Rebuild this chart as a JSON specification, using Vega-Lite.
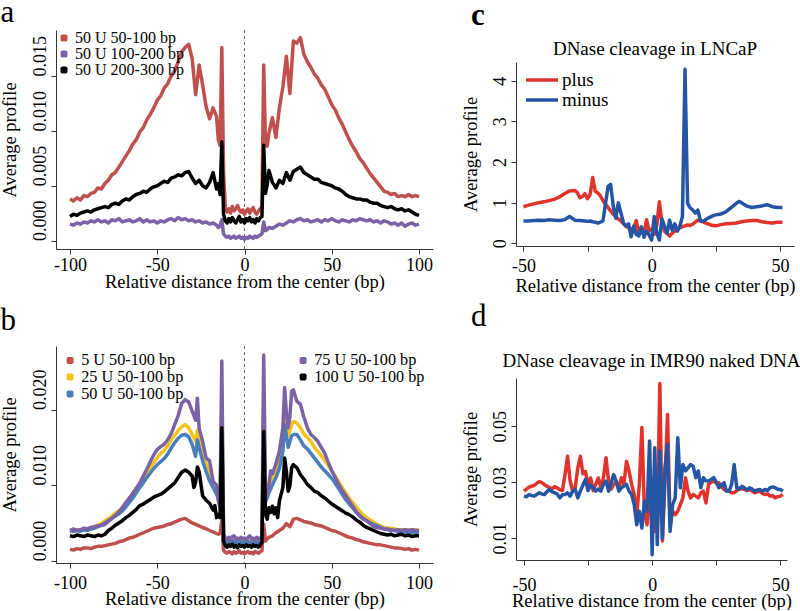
{
"$schema": "https://vega.github.io/schema/vega-lite/v6.json",
"padding": {"left": 0, "top": -4, "right": 0, "bottom": 0},
"config": {
 "font": "Liberation Serif",
 "view": {"stroke": null},
 "axis": {"grid": false, "domainColor": "#333", "tickColor": "#333", "tickSize": 5, "labelFont": "Liberation Serif", "titleFont": "Liberation Serif", "labelFontSize": 18, "titleFontSize": 18.5, "titleFontWeight": "normal", "labelColor": "#000", "titleColor": "#000", "labelPadding": 2, "titlePadding": -2},
 "legend": {"labelFont": "Liberation Serif", "labelColor": "#000"},
 "title": {"font": "Liberation Serif", "fontWeight": "normal", "color": "#000", "baseline": "alphabetic"},
 "line": {"strokeWidth": 3.5, "strokeJoin": "round"}
},
"datasets": {
"a1": [{"x":-100,"y":0.0038},{"x":-98,"y":0.0036},{"x":-96,"y":0.0039},{"x":-94,"y":0.0037},{"x":-92,"y":0.0041},{"x":-90,"y":0.0040},{"x":-88,"y":0.0043},{"x":-86,"y":0.0044},{"x":-84,"y":0.0048},{"x":-82,"y":0.0047},{"x":-80,"y":0.0052},{"x":-78,"y":0.0055},{"x":-76,"y":0.0060},{"x":-74,"y":0.0062},{"x":-72,"y":0.0067},{"x":-70,"y":0.0072},{"x":-68,"y":0.0077},{"x":-66,"y":0.0082},{"x":-64,"y":0.0088},{"x":-62,"y":0.0092},{"x":-60,"y":0.0099},{"x":-58,"y":0.0103},{"x":-56,"y":0.0110},{"x":-54,"y":0.0115},{"x":-52,"y":0.0121},{"x":-50,"y":0.0128},{"x":-48,"y":0.0132},{"x":-46,"y":0.0139},{"x":-44,"y":0.0143},{"x":-42,"y":0.0150},{"x":-40,"y":0.0155},{"x":-38,"y":0.0163},{"x":-36,"y":0.0172},{"x":-34,"y":0.0176},{"x":-32,"y":0.0179},{"x":-30,"y":0.0166},{"x":-28,"y":0.0133},{"x":-26,"y":0.0160},{"x":-24,"y":0.0142},{"x":-22,"y":0.0122},{"x":-20,"y":0.0111},{"x":-18,"y":0.0121},{"x":-16,"y":0.0113},{"x":-15,"y":0.0092},{"x":-14,"y":0.0087},{"x":-13,"y":0.0176},{"x":-12,"y":0.0062},{"x":-11,"y":0.0030},{"x":-10,"y":0.0026},{"x":-9,"y":0.0029},{"x":-8,"y":0.0025},{"x":-7,"y":0.0031},{"x":-6,"y":0.0027},{"x":-5,"y":0.0029},{"x":-4,"y":0.0032},{"x":-3,"y":0.0028},{"x":-2,"y":0.0026},{"x":-1,"y":0.0028},{"x":0,"y":0.0024},{"x":1,"y":0.0027},{"x":2,"y":0.0029},{"x":3,"y":0.0025},{"x":4,"y":0.0028},{"x":5,"y":0.0030},{"x":6,"y":0.0026},{"x":7,"y":0.0024},{"x":8,"y":0.0027},{"x":9,"y":0.0029},{"x":10,"y":0.0031},{"x":11,"y":0.0160},{"x":12,"y":0.0090},{"x":13,"y":0.0086},{"x":14,"y":0.0098},{"x":16,"y":0.0112},{"x":18,"y":0.0094},{"x":20,"y":0.0121},{"x":22,"y":0.0140},{"x":24,"y":0.0168},{"x":26,"y":0.0134},{"x":28,"y":0.0182},{"x":30,"y":0.0180},{"x":32,"y":0.0185},{"x":34,"y":0.0170},{"x":36,"y":0.0163},{"x":38,"y":0.0158},{"x":40,"y":0.0152},{"x":42,"y":0.0148},{"x":44,"y":0.0142},{"x":46,"y":0.0138},{"x":48,"y":0.0131},{"x":50,"y":0.0124},{"x":52,"y":0.0119},{"x":54,"y":0.0112},{"x":56,"y":0.0106},{"x":58,"y":0.0099},{"x":60,"y":0.0092},{"x":62,"y":0.0086},{"x":64,"y":0.0081},{"x":66,"y":0.0075},{"x":68,"y":0.0071},{"x":70,"y":0.0066},{"x":72,"y":0.0061},{"x":74,"y":0.0057},{"x":76,"y":0.0053},{"x":78,"y":0.0049},{"x":80,"y":0.0045},{"x":82,"y":0.0044},{"x":84,"y":0.0042},{"x":86,"y":0.0043},{"x":88,"y":0.0040},{"x":90,"y":0.0041},{"x":92,"y":0.0040},{"x":94,"y":0.0042},{"x":96,"y":0.0040},{"x":98,"y":0.0041},{"x":100,"y":0.0040}],
"a2": [{"x":-100,"y":0.0015},{"x":-98,"y":0.0014},{"x":-96,"y":0.0016},{"x":-94,"y":0.0015},{"x":-92,"y":0.0017},{"x":-90,"y":0.0016},{"x":-88,"y":0.0018},{"x":-86,"y":0.0017},{"x":-84,"y":0.0019},{"x":-82,"y":0.0017},{"x":-80,"y":0.0018},{"x":-78,"y":0.0016},{"x":-76,"y":0.0019},{"x":-74,"y":0.0018},{"x":-72,"y":0.0020},{"x":-70,"y":0.0017},{"x":-68,"y":0.0018},{"x":-66,"y":0.0019},{"x":-64,"y":0.0017},{"x":-62,"y":0.0018},{"x":-60,"y":0.0020},{"x":-58,"y":0.0017},{"x":-56,"y":0.0019},{"x":-54,"y":0.0017},{"x":-52,"y":0.0018},{"x":-50,"y":0.0016},{"x":-48,"y":0.0018},{"x":-46,"y":0.0017},{"x":-44,"y":0.0019},{"x":-42,"y":0.0020},{"x":-40,"y":0.0018},{"x":-38,"y":0.0021},{"x":-36,"y":0.0019},{"x":-34,"y":0.0020},{"x":-32,"y":0.0018},{"x":-30,"y":0.0019},{"x":-28,"y":0.0017},{"x":-26,"y":0.0018},{"x":-24,"y":0.0016},{"x":-22,"y":0.0017},{"x":-20,"y":0.0015},{"x":-18,"y":0.0016},{"x":-16,"y":0.0014},{"x":-15,"y":0.0012},{"x":-14,"y":0.0013},{"x":-13,"y":0.0019},{"x":-12,"y":0.0006},{"x":-11,"y":0.0004},{"x":-10,"y":0.0003},{"x":-9,"y":0.0004},{"x":-8,"y":0.0002},{"x":-7,"y":0.0003},{"x":-6,"y":0.0004},{"x":-5,"y":0.0002},{"x":-4,"y":0.0003},{"x":-3,"y":0.0004},{"x":-2,"y":0.0002},{"x":-1,"y":0.0003},{"x":0,"y":0.0001},{"x":1,"y":0.0003},{"x":2,"y":0.0002},{"x":3,"y":0.0004},{"x":4,"y":0.0003},{"x":5,"y":0.0002},{"x":6,"y":0.0004},{"x":7,"y":0.0003},{"x":8,"y":0.0004},{"x":9,"y":0.0005},{"x":10,"y":0.0006},{"x":11,"y":0.0017},{"x":12,"y":0.0009},{"x":13,"y":0.0010},{"x":14,"y":0.0012},{"x":16,"y":0.0011},{"x":18,"y":0.0013},{"x":20,"y":0.0015},{"x":22,"y":0.0014},{"x":24,"y":0.0016},{"x":26,"y":0.0018},{"x":28,"y":0.0017},{"x":30,"y":0.0019},{"x":32,"y":0.0020},{"x":34,"y":0.0018},{"x":36,"y":0.0019},{"x":38,"y":0.0017},{"x":40,"y":0.0018},{"x":42,"y":0.0019},{"x":44,"y":0.0017},{"x":46,"y":0.0019},{"x":48,"y":0.0018},{"x":50,"y":0.0020},{"x":52,"y":0.0018},{"x":54,"y":0.0017},{"x":56,"y":0.0019},{"x":58,"y":0.0018},{"x":60,"y":0.0017},{"x":62,"y":0.0019},{"x":64,"y":0.0018},{"x":66,"y":0.0020},{"x":68,"y":0.0019},{"x":70,"y":0.0018},{"x":72,"y":0.0019},{"x":74,"y":0.0017},{"x":76,"y":0.0018},{"x":78,"y":0.0016},{"x":80,"y":0.0018},{"x":82,"y":0.0017},{"x":84,"y":0.0015},{"x":86,"y":0.0016},{"x":88,"y":0.0014},{"x":90,"y":0.0016},{"x":92,"y":0.0013},{"x":94,"y":0.0015},{"x":96,"y":0.0016},{"x":98,"y":0.0014},{"x":100,"y":0.0015}],
"a3": [{"x":-100,"y":0.0022},{"x":-98,"y":0.0024},{"x":-96,"y":0.0023},{"x":-94,"y":0.0025},{"x":-92,"y":0.0026},{"x":-90,"y":0.0027},{"x":-88,"y":0.0026},{"x":-86,"y":0.0028},{"x":-84,"y":0.0029},{"x":-82,"y":0.0030},{"x":-80,"y":0.0031},{"x":-78,"y":0.0030},{"x":-76,"y":0.0033},{"x":-74,"y":0.0034},{"x":-72,"y":0.0033},{"x":-70,"y":0.0036},{"x":-68,"y":0.0038},{"x":-66,"y":0.0037},{"x":-64,"y":0.0040},{"x":-62,"y":0.0042},{"x":-60,"y":0.0043},{"x":-58,"y":0.0045},{"x":-56,"y":0.0044},{"x":-54,"y":0.0047},{"x":-52,"y":0.0049},{"x":-50,"y":0.0050},{"x":-48,"y":0.0052},{"x":-46,"y":0.0054},{"x":-44,"y":0.0053},{"x":-42,"y":0.0057},{"x":-40,"y":0.0058},{"x":-38,"y":0.0060},{"x":-36,"y":0.0059},{"x":-34,"y":0.0062},{"x":-32,"y":0.0063},{"x":-30,"y":0.0057},{"x":-28,"y":0.0052},{"x":-26,"y":0.0055},{"x":-24,"y":0.0050},{"x":-22,"y":0.0048},{"x":-20,"y":0.0053},{"x":-18,"y":0.0062},{"x":-16,"y":0.0047},{"x":-15,"y":0.0052},{"x":-14,"y":0.0042},{"x":-13,"y":0.0090},{"x":-12,"y":0.0024},{"x":-11,"y":0.0018},{"x":-10,"y":0.0016},{"x":-9,"y":0.0020},{"x":-8,"y":0.0017},{"x":-7,"y":0.0021},{"x":-6,"y":0.0018},{"x":-5,"y":0.0016},{"x":-4,"y":0.0019},{"x":-3,"y":0.0022},{"x":-2,"y":0.0017},{"x":-1,"y":0.0019},{"x":0,"y":0.0016},{"x":1,"y":0.0020},{"x":2,"y":0.0018},{"x":3,"y":0.0021},{"x":4,"y":0.0017},{"x":5,"y":0.0019},{"x":6,"y":0.0016},{"x":7,"y":0.0020},{"x":8,"y":0.0018},{"x":9,"y":0.0021},{"x":10,"y":0.0022},{"x":11,"y":0.0087},{"x":12,"y":0.0043},{"x":13,"y":0.0051},{"x":14,"y":0.0064},{"x":16,"y":0.0053},{"x":18,"y":0.0048},{"x":20,"y":0.0055},{"x":22,"y":0.0052},{"x":24,"y":0.0062},{"x":26,"y":0.0055},{"x":28,"y":0.0063},{"x":30,"y":0.0065},{"x":32,"y":0.0067},{"x":34,"y":0.0062},{"x":36,"y":0.0060},{"x":38,"y":0.0058},{"x":40,"y":0.0056},{"x":42,"y":0.0056},{"x":44,"y":0.0053},{"x":46,"y":0.0052},{"x":48,"y":0.0051},{"x":50,"y":0.0050},{"x":52,"y":0.0048},{"x":54,"y":0.0047},{"x":56,"y":0.0045},{"x":58,"y":0.0042},{"x":60,"y":0.0040},{"x":62,"y":0.0039},{"x":64,"y":0.0038},{"x":66,"y":0.0038},{"x":68,"y":0.0037},{"x":70,"y":0.0037},{"x":72,"y":0.0035},{"x":74,"y":0.0034},{"x":76,"y":0.0034},{"x":78,"y":0.0032},{"x":80,"y":0.0031},{"x":82,"y":0.0030},{"x":84,"y":0.0031},{"x":86,"y":0.0029},{"x":88,"y":0.0028},{"x":90,"y":0.0029},{"x":92,"y":0.0027},{"x":94,"y":0.0028},{"x":96,"y":0.0026},{"x":98,"y":0.0024},{"x":100,"y":0.0023}],
"b1": [{"x":-100,"y":0.0015},{"x":-98,"y":0.0014},{"x":-96,"y":0.0016},{"x":-94,"y":0.0015},{"x":-92,"y":0.0017},{"x":-90,"y":0.0017},{"x":-88,"y":0.0016},{"x":-86,"y":0.0018},{"x":-84,"y":0.0019},{"x":-82,"y":0.0019},{"x":-80,"y":0.0020},{"x":-78,"y":0.0021},{"x":-76,"y":0.0022},{"x":-74,"y":0.0023},{"x":-72,"y":0.0025},{"x":-70,"y":0.0026},{"x":-68,"y":0.0028},{"x":-66,"y":0.0030},{"x":-64,"y":0.0031},{"x":-62,"y":0.0033},{"x":-60,"y":0.0035},{"x":-58,"y":0.0037},{"x":-56,"y":0.0039},{"x":-54,"y":0.0041},{"x":-52,"y":0.0043},{"x":-50,"y":0.0044},{"x":-48,"y":0.0045},{"x":-46,"y":0.0046},{"x":-44,"y":0.0048},{"x":-42,"y":0.0049},{"x":-40,"y":0.0051},{"x":-38,"y":0.0053},{"x":-36,"y":0.0055},{"x":-34,"y":0.0056},{"x":-32,"y":0.0053},{"x":-30,"y":0.0050},{"x":-28,"y":0.0048},{"x":-26,"y":0.0046},{"x":-24,"y":0.0044},{"x":-22,"y":0.0042},{"x":-20,"y":0.0040},{"x":-18,"y":0.0038},{"x":-16,"y":0.0036},{"x":-15,"y":0.0035},{"x":-14,"y":0.0036},{"x":-13,"y":0.0053},{"x":-12,"y":0.0014},{"x":-11,"y":0.0011},{"x":-10,"y":0.0010},{"x":-9,"y":0.0012},{"x":-8,"y":0.0011},{"x":-7,"y":0.0009},{"x":-6,"y":0.0012},{"x":-5,"y":0.0010},{"x":-4,"y":0.0011},{"x":-3,"y":0.0013},{"x":-2,"y":0.0010},{"x":-1,"y":0.0011},{"x":0,"y":0.0009},{"x":1,"y":0.0011},{"x":2,"y":0.0012},{"x":3,"y":0.0010},{"x":4,"y":0.0011},{"x":5,"y":0.0009},{"x":6,"y":0.0012},{"x":7,"y":0.0011},{"x":8,"y":0.0010},{"x":9,"y":0.0012},{"x":10,"y":0.0013},{"x":11,"y":0.0048},{"x":12,"y":0.0026},{"x":13,"y":0.0029},{"x":14,"y":0.0031},{"x":16,"y":0.0033},{"x":18,"y":0.0037},{"x":20,"y":0.0040},{"x":22,"y":0.0043},{"x":24,"y":0.0049},{"x":26,"y":0.0045},{"x":28,"y":0.0055},{"x":30,"y":0.0056},{"x":32,"y":0.0054},{"x":34,"y":0.0052},{"x":36,"y":0.0051},{"x":38,"y":0.0050},{"x":40,"y":0.0048},{"x":42,"y":0.0047},{"x":44,"y":0.0046},{"x":46,"y":0.0044},{"x":48,"y":0.0042},{"x":50,"y":0.0040},{"x":52,"y":0.0039},{"x":54,"y":0.0037},{"x":56,"y":0.0035},{"x":58,"y":0.0033},{"x":60,"y":0.0031},{"x":62,"y":0.0030},{"x":64,"y":0.0028},{"x":66,"y":0.0027},{"x":68,"y":0.0025},{"x":70,"y":0.0024},{"x":72,"y":0.0023},{"x":74,"y":0.0022},{"x":76,"y":0.0021},{"x":78,"y":0.0021},{"x":80,"y":0.0020},{"x":82,"y":0.0019},{"x":84,"y":0.0018},{"x":86,"y":0.0017},{"x":88,"y":0.0017},{"x":90,"y":0.0016},{"x":92,"y":0.0015},{"x":94,"y":0.0016},{"x":96,"y":0.0014},{"x":98,"y":0.0015},{"x":100,"y":0.0014}],
"b2": [{"x":-100,"y":0.0040},{"x":-98,"y":0.0039},{"x":-96,"y":0.0041},{"x":-94,"y":0.0040},{"x":-92,"y":0.0042},{"x":-90,"y":0.0041},{"x":-88,"y":0.0043},{"x":-86,"y":0.0045},{"x":-84,"y":0.0047},{"x":-82,"y":0.0049},{"x":-80,"y":0.0053},{"x":-78,"y":0.0056},{"x":-76,"y":0.0059},{"x":-74,"y":0.0063},{"x":-72,"y":0.0066},{"x":-70,"y":0.0070},{"x":-68,"y":0.0076},{"x":-66,"y":0.0082},{"x":-64,"y":0.0089},{"x":-62,"y":0.0096},{"x":-60,"y":0.0103},{"x":-58,"y":0.0110},{"x":-56,"y":0.0117},{"x":-54,"y":0.0123},{"x":-52,"y":0.0130},{"x":-50,"y":0.0136},{"x":-48,"y":0.0142},{"x":-46,"y":0.0146},{"x":-44,"y":0.0152},{"x":-42,"y":0.0160},{"x":-40,"y":0.0166},{"x":-38,"y":0.0172},{"x":-36,"y":0.0177},{"x":-34,"y":0.0180},{"x":-32,"y":0.0176},{"x":-30,"y":0.0167},{"x":-28,"y":0.0158},{"x":-27,"y":0.0172},{"x":-26,"y":0.0160},{"x":-24,"y":0.0145},{"x":-22,"y":0.0128},{"x":-20,"y":0.0115},{"x":-18,"y":0.0105},{"x":-16,"y":0.0092},{"x":-15,"y":0.0088},{"x":-14,"y":0.0082},{"x":-13,"y":0.0220},{"x":-12,"y":0.0030},{"x":-11,"y":0.0026},{"x":-10,"y":0.0024},{"x":-9,"y":0.0027},{"x":-8,"y":0.0025},{"x":-7,"y":0.0028},{"x":-6,"y":0.0026},{"x":-5,"y":0.0024},{"x":-4,"y":0.0027},{"x":-3,"y":0.0025},{"x":-2,"y":0.0026},{"x":-1,"y":0.0024},{"x":0,"y":0.0026},{"x":1,"y":0.0025},{"x":2,"y":0.0027},{"x":3,"y":0.0024},{"x":4,"y":0.0026},{"x":5,"y":0.0025},{"x":6,"y":0.0027},{"x":7,"y":0.0024},{"x":8,"y":0.0026},{"x":9,"y":0.0025},{"x":10,"y":0.0027},{"x":11,"y":0.0215},{"x":12,"y":0.0088},{"x":13,"y":0.0092},{"x":14,"y":0.0100},{"x":16,"y":0.0110},{"x":18,"y":0.0120},{"x":20,"y":0.0136},{"x":22,"y":0.0160},{"x":23,"y":0.0193},{"x":25,"y":0.0165},{"x":27,"y":0.0180},{"x":28,"y":0.0184},{"x":30,"y":0.0182},{"x":32,"y":0.0176},{"x":34,"y":0.0168},{"x":36,"y":0.0163},{"x":38,"y":0.0158},{"x":40,"y":0.0150},{"x":42,"y":0.0145},{"x":44,"y":0.0139},{"x":46,"y":0.0133},{"x":48,"y":0.0126},{"x":50,"y":0.0119},{"x":52,"y":0.0112},{"x":54,"y":0.0104},{"x":56,"y":0.0097},{"x":58,"y":0.0090},{"x":60,"y":0.0082},{"x":62,"y":0.0077},{"x":64,"y":0.0071},{"x":66,"y":0.0066},{"x":68,"y":0.0061},{"x":70,"y":0.0057},{"x":72,"y":0.0054},{"x":74,"y":0.0051},{"x":76,"y":0.0048},{"x":78,"y":0.0046},{"x":80,"y":0.0044},{"x":82,"y":0.0043},{"x":84,"y":0.0043},{"x":86,"y":0.0042},{"x":88,"y":0.0041},{"x":90,"y":0.0041},{"x":92,"y":0.0040},{"x":94,"y":0.0041},{"x":96,"y":0.0040},{"x":98,"y":0.0041},{"x":100,"y":0.0040}],
"b3": [{"x":-100,"y":0.0040},{"x":-98,"y":0.0039},{"x":-96,"y":0.0040},{"x":-94,"y":0.0039},{"x":-92,"y":0.0041},{"x":-90,"y":0.0040},{"x":-88,"y":0.0042},{"x":-86,"y":0.0043},{"x":-84,"y":0.0045},{"x":-82,"y":0.0047},{"x":-80,"y":0.0050},{"x":-78,"y":0.0053},{"x":-76,"y":0.0056},{"x":-74,"y":0.0059},{"x":-72,"y":0.0062},{"x":-70,"y":0.0066},{"x":-68,"y":0.0071},{"x":-66,"y":0.0077},{"x":-64,"y":0.0083},{"x":-62,"y":0.0090},{"x":-60,"y":0.0097},{"x":-58,"y":0.0103},{"x":-56,"y":0.0110},{"x":-54,"y":0.0116},{"x":-52,"y":0.0122},{"x":-50,"y":0.0127},{"x":-48,"y":0.0131},{"x":-46,"y":0.0135},{"x":-44,"y":0.0141},{"x":-42,"y":0.0149},{"x":-40,"y":0.0156},{"x":-38,"y":0.0162},{"x":-36,"y":0.0166},{"x":-34,"y":0.0167},{"x":-32,"y":0.0164},{"x":-30,"y":0.0154},{"x":-28,"y":0.0138},{"x":-27,"y":0.0160},{"x":-26,"y":0.0150},{"x":-24,"y":0.0132},{"x":-22,"y":0.0118},{"x":-20,"y":0.0106},{"x":-18,"y":0.0097},{"x":-16,"y":0.0088},{"x":-15,"y":0.0083},{"x":-14,"y":0.0075},{"x":-13,"y":0.0200},{"x":-12,"y":0.0028},{"x":-11,"y":0.0025},{"x":-10,"y":0.0023},{"x":-9,"y":0.0026},{"x":-8,"y":0.0024},{"x":-7,"y":0.0027},{"x":-6,"y":0.0025},{"x":-5,"y":0.0023},{"x":-4,"y":0.0026},{"x":-3,"y":0.0024},{"x":-2,"y":0.0025},{"x":-1,"y":0.0023},{"x":0,"y":0.0025},{"x":1,"y":0.0024},{"x":2,"y":0.0026},{"x":3,"y":0.0023},{"x":4,"y":0.0025},{"x":5,"y":0.0024},{"x":6,"y":0.0026},{"x":7,"y":0.0023},{"x":8,"y":0.0025},{"x":9,"y":0.0024},{"x":10,"y":0.0026},{"x":11,"y":0.0200},{"x":12,"y":0.0078},{"x":13,"y":0.0083},{"x":14,"y":0.0090},{"x":16,"y":0.0100},{"x":18,"y":0.0110},{"x":20,"y":0.0122},{"x":22,"y":0.0145},{"x":23,"y":0.0180},{"x":25,"y":0.0150},{"x":27,"y":0.0165},{"x":28,"y":0.0167},{"x":30,"y":0.0167},{"x":32,"y":0.0160},{"x":34,"y":0.0152},{"x":36,"y":0.0148},{"x":38,"y":0.0142},{"x":40,"y":0.0136},{"x":42,"y":0.0130},{"x":44,"y":0.0124},{"x":46,"y":0.0119},{"x":48,"y":0.0114},{"x":50,"y":0.0109},{"x":52,"y":0.0102},{"x":54,"y":0.0095},{"x":56,"y":0.0088},{"x":58,"y":0.0081},{"x":60,"y":0.0075},{"x":62,"y":0.0070},{"x":64,"y":0.0064},{"x":66,"y":0.0060},{"x":68,"y":0.0056},{"x":70,"y":0.0053},{"x":72,"y":0.0050},{"x":74,"y":0.0048},{"x":76,"y":0.0046},{"x":78,"y":0.0044},{"x":80,"y":0.0042},{"x":82,"y":0.0041},{"x":84,"y":0.0040},{"x":86,"y":0.0040},{"x":88,"y":0.0039},{"x":90,"y":0.0039},{"x":92,"y":0.0038},{"x":94,"y":0.0038},{"x":96,"y":0.0037},{"x":98,"y":0.0038},{"x":100,"y":0.0037}],
"b4": [{"x":-100,"y":0.0040},{"x":-98,"y":0.0042},{"x":-96,"y":0.0040},{"x":-94,"y":0.0041},{"x":-92,"y":0.0043},{"x":-90,"y":0.0042},{"x":-88,"y":0.0044},{"x":-86,"y":0.0045},{"x":-84,"y":0.0046},{"x":-82,"y":0.0047},{"x":-80,"y":0.0048},{"x":-78,"y":0.0052},{"x":-76,"y":0.0056},{"x":-74,"y":0.0060},{"x":-72,"y":0.0065},{"x":-70,"y":0.0070},{"x":-68,"y":0.0077},{"x":-66,"y":0.0083},{"x":-64,"y":0.0089},{"x":-62,"y":0.0096},{"x":-60,"y":0.0103},{"x":-58,"y":0.0112},{"x":-56,"y":0.0121},{"x":-54,"y":0.0131},{"x":-52,"y":0.0140},{"x":-50,"y":0.0147},{"x":-48,"y":0.0151},{"x":-46,"y":0.0154},{"x":-44,"y":0.0160},{"x":-42,"y":0.0168},{"x":-40,"y":0.0180},{"x":-38,"y":0.0192},{"x":-36,"y":0.0208},{"x":-34,"y":0.0213},{"x":-32,"y":0.0210},{"x":-30,"y":0.0198},{"x":-28,"y":0.0186},{"x":-27,"y":0.0215},{"x":-26,"y":0.0175},{"x":-24,"y":0.0158},{"x":-22,"y":0.0136},{"x":-20,"y":0.0132},{"x":-18,"y":0.0105},{"x":-16,"y":0.0100},{"x":-15,"y":0.0079},{"x":-14,"y":0.0070},{"x":-13,"y":0.0264},{"x":-12,"y":0.0035},{"x":-11,"y":0.0030},{"x":-10,"y":0.0029},{"x":-9,"y":0.0031},{"x":-8,"y":0.0028},{"x":-7,"y":0.0032},{"x":-6,"y":0.0033},{"x":-5,"y":0.0029},{"x":-4,"y":0.0030},{"x":-3,"y":0.0028},{"x":-2,"y":0.0031},{"x":-1,"y":0.0029},{"x":0,"y":0.0030},{"x":1,"y":0.0028},{"x":2,"y":0.0031},{"x":3,"y":0.0033},{"x":4,"y":0.0029},{"x":5,"y":0.0030},{"x":6,"y":0.0028},{"x":7,"y":0.0031},{"x":8,"y":0.0029},{"x":9,"y":0.0030},{"x":10,"y":0.0032},{"x":11,"y":0.0272},{"x":12,"y":0.0097},{"x":13,"y":0.0088},{"x":14,"y":0.0100},{"x":15,"y":0.0119},{"x":16,"y":0.0115},{"x":18,"y":0.0128},{"x":20,"y":0.0145},{"x":22,"y":0.0176},{"x":23,"y":0.0229},{"x":24,"y":0.0195},{"x":25,"y":0.0176},{"x":26,"y":0.0190},{"x":27,"y":0.0224},{"x":28,"y":0.0226},{"x":30,"y":0.0211},{"x":32,"y":0.0207},{"x":34,"y":0.0190},{"x":36,"y":0.0176},{"x":38,"y":0.0167},{"x":40,"y":0.0163},{"x":42,"y":0.0158},{"x":44,"y":0.0150},{"x":46,"y":0.0142},{"x":48,"y":0.0130},{"x":50,"y":0.0119},{"x":52,"y":0.0110},{"x":54,"y":0.0101},{"x":56,"y":0.0093},{"x":58,"y":0.0086},{"x":60,"y":0.0079},{"x":62,"y":0.0072},{"x":64,"y":0.0065},{"x":66,"y":0.0059},{"x":68,"y":0.0055},{"x":70,"y":0.0053},{"x":72,"y":0.0049},{"x":74,"y":0.0045},{"x":76,"y":0.0044},{"x":78,"y":0.0043},{"x":80,"y":0.0042},{"x":82,"y":0.0042},{"x":84,"y":0.0041},{"x":86,"y":0.0040},{"x":88,"y":0.0041},{"x":90,"y":0.0040},{"x":92,"y":0.0041},{"x":94,"y":0.0040},{"x":96,"y":0.0041},{"x":98,"y":0.0040},{"x":100,"y":0.0040}],
"b5": [{"x":-100,"y":0.0033},{"x":-98,"y":0.0032},{"x":-96,"y":0.0034},{"x":-94,"y":0.0033},{"x":-92,"y":0.0032},{"x":-90,"y":0.0034},{"x":-88,"y":0.0033},{"x":-86,"y":0.0032},{"x":-84,"y":0.0034},{"x":-82,"y":0.0033},{"x":-80,"y":0.0035},{"x":-78,"y":0.0040},{"x":-76,"y":0.0043},{"x":-74,"y":0.0047},{"x":-72,"y":0.0050},{"x":-70,"y":0.0053},{"x":-68,"y":0.0057},{"x":-66,"y":0.0060},{"x":-64,"y":0.0064},{"x":-62,"y":0.0068},{"x":-60,"y":0.0073},{"x":-58,"y":0.0075},{"x":-56,"y":0.0078},{"x":-54,"y":0.0081},{"x":-52,"y":0.0084},{"x":-50,"y":0.0086},{"x":-48,"y":0.0088},{"x":-46,"y":0.0091},{"x":-44,"y":0.0095},{"x":-42,"y":0.0099},{"x":-40,"y":0.0103},{"x":-38,"y":0.0110},{"x":-36,"y":0.0117},{"x":-34,"y":0.0120},{"x":-32,"y":0.0117},{"x":-30,"y":0.0112},{"x":-29,"y":0.0097},{"x":-28,"y":0.0104},{"x":-27,"y":0.0124},{"x":-26,"y":0.0118},{"x":-24,"y":0.0086},{"x":-22,"y":0.0080},{"x":-20,"y":0.0076},{"x":-18,"y":0.0067},{"x":-17,"y":0.0073},{"x":-16,"y":0.0057},{"x":-15,"y":0.0061},{"x":-14,"y":0.0057},{"x":-13,"y":0.0176},{"x":-12,"y":0.0026},{"x":-11,"y":0.0020},{"x":-10,"y":0.0018},{"x":-9,"y":0.0021},{"x":-8,"y":0.0019},{"x":-7,"y":0.0022},{"x":-6,"y":0.0018},{"x":-5,"y":0.0020},{"x":-4,"y":0.0017},{"x":-3,"y":0.0021},{"x":-2,"y":0.0019},{"x":-1,"y":0.0020},{"x":0,"y":0.0018},{"x":1,"y":0.0021},{"x":2,"y":0.0019},{"x":3,"y":0.0020},{"x":4,"y":0.0018},{"x":5,"y":0.0021},{"x":6,"y":0.0019},{"x":7,"y":0.0020},{"x":8,"y":0.0018},{"x":9,"y":0.0021},{"x":10,"y":0.0024},{"x":11,"y":0.0171},{"x":12,"y":0.0062},{"x":13,"y":0.0055},{"x":14,"y":0.0070},{"x":15,"y":0.0064},{"x":16,"y":0.0072},{"x":17,"y":0.0062},{"x":18,"y":0.0070},{"x":19,"y":0.0057},{"x":20,"y":0.0079},{"x":22,"y":0.0097},{"x":23,"y":0.0136},{"x":24,"y":0.0118},{"x":25,"y":0.0092},{"x":26,"y":0.0099},{"x":27,"y":0.0123},{"x":28,"y":0.0127},{"x":30,"y":0.0123},{"x":32,"y":0.0114},{"x":34,"y":0.0108},{"x":36,"y":0.0101},{"x":38,"y":0.0097},{"x":40,"y":0.0092},{"x":42,"y":0.0090},{"x":44,"y":0.0086},{"x":46,"y":0.0083},{"x":48,"y":0.0079},{"x":50,"y":0.0075},{"x":52,"y":0.0072},{"x":54,"y":0.0069},{"x":56,"y":0.0066},{"x":58,"y":0.0063},{"x":60,"y":0.0061},{"x":62,"y":0.0058},{"x":64,"y":0.0054},{"x":66,"y":0.0051},{"x":68,"y":0.0047},{"x":70,"y":0.0044},{"x":72,"y":0.0042},{"x":74,"y":0.0040},{"x":76,"y":0.0038},{"x":78,"y":0.0036},{"x":80,"y":0.0035},{"x":82,"y":0.0034},{"x":84,"y":0.0035},{"x":86,"y":0.0033},{"x":88,"y":0.0034},{"x":90,"y":0.0035},{"x":92,"y":0.0033},{"x":94,"y":0.0034},{"x":96,"y":0.0032},{"x":98,"y":0.0033},{"x":100,"y":0.0033}],
"c1": [{"x":-50,"y":0.90},{"x":-48,"y":0.94},{"x":-46,"y":0.97},{"x":-44,"y":1.00},{"x":-42,"y":1.02},{"x":-40,"y":1.05},{"x":-38,"y":1.08},{"x":-36,"y":1.14},{"x":-34,"y":1.22},{"x":-32,"y":1.29},{"x":-30,"y":1.30},{"x":-29,"y":1.25},{"x":-28,"y":1.12},{"x":-27,"y":1.15},{"x":-26,"y":1.22},{"x":-25,"y":1.10},{"x":-24,"y":1.20},{"x":-23,"y":1.62},{"x":-22,"y":1.28},{"x":-21,"y":1.24},{"x":-20,"y":1.17},{"x":-19,"y":1.05},{"x":-18,"y":0.96},{"x":-17,"y":0.88},{"x":-16,"y":0.80},{"x":-15,"y":0.72},{"x":-14,"y":0.66},{"x":-13,"y":0.60},{"x":-12,"y":0.55},{"x":-11,"y":0.48},{"x":-10,"y":0.42},{"x":-9,"y":0.38},{"x":-8,"y":0.32},{"x":-7,"y":0.40},{"x":-6,"y":0.56},{"x":-5,"y":0.25},{"x":-4,"y":0.40},{"x":-3,"y":0.22},{"x":-2,"y":0.58},{"x":-1,"y":0.30},{"x":0,"y":0.35},{"x":1,"y":0.22},{"x":2,"y":0.45},{"x":3,"y":1.02},{"x":4,"y":0.50},{"x":5,"y":0.30},{"x":6,"y":0.24},{"x":7,"y":0.18},{"x":8,"y":0.25},{"x":9,"y":0.30},{"x":10,"y":0.34},{"x":11,"y":0.38},{"x":12,"y":0.41},{"x":13,"y":0.43},{"x":14,"y":0.45},{"x":15,"y":0.44},{"x":16,"y":0.47},{"x":17,"y":0.52},{"x":18,"y":0.57},{"x":19,"y":0.55},{"x":20,"y":0.53},{"x":21,"y":0.50},{"x":22,"y":0.48},{"x":23,"y":0.45},{"x":24,"y":0.44},{"x":25,"y":0.43},{"x":27,"y":0.46},{"x":29,"y":0.48},{"x":31,"y":0.49},{"x":33,"y":0.50},{"x":35,"y":0.53},{"x":37,"y":0.55},{"x":39,"y":0.56},{"x":41,"y":0.56},{"x":43,"y":0.53},{"x":45,"y":0.51},{"x":47,"y":0.50},{"x":49,"y":0.52},{"x":51,"y":0.52}],
"c2": [{"x":-50,"y":0.55},{"x":-48,"y":0.55},{"x":-46,"y":0.56},{"x":-44,"y":0.57},{"x":-42,"y":0.56},{"x":-40,"y":0.58},{"x":-38,"y":0.57},{"x":-36,"y":0.56},{"x":-34,"y":0.58},{"x":-32,"y":0.66},{"x":-30,"y":0.57},{"x":-28,"y":0.56},{"x":-26,"y":0.55},{"x":-25,"y":0.54},{"x":-24,"y":0.55},{"x":-23,"y":0.53},{"x":-22,"y":0.52},{"x":-21,"y":0.50},{"x":-20,"y":0.52},{"x":-19,"y":0.55},{"x":-18,"y":0.98},{"x":-17,"y":1.40},{"x":-16,"y":1.45},{"x":-15,"y":0.92},{"x":-14,"y":0.62},{"x":-13,"y":1.00},{"x":-12,"y":0.75},{"x":-11,"y":0.50},{"x":-10,"y":0.42},{"x":-9,"y":0.48},{"x":-8,"y":0.16},{"x":-7,"y":0.42},{"x":-6,"y":0.22},{"x":-5,"y":0.18},{"x":-4,"y":0.40},{"x":-3,"y":0.15},{"x":-2,"y":0.30},{"x":-1,"y":0.20},{"x":0,"y":0.08},{"x":1,"y":0.66},{"x":2,"y":0.25},{"x":3,"y":0.08},{"x":4,"y":0.60},{"x":5,"y":0.42},{"x":6,"y":0.25},{"x":7,"y":0.57},{"x":8,"y":0.32},{"x":9,"y":0.48},{"x":10,"y":0.30},{"x":11,"y":0.42},{"x":12,"y":0.66},{"x":13,"y":4.28},{"x":14,"y":0.99},{"x":15,"y":0.87},{"x":16,"y":0.82},{"x":17,"y":0.74},{"x":18,"y":0.82},{"x":19,"y":0.56},{"x":20,"y":0.54},{"x":21,"y":0.58},{"x":22,"y":0.62},{"x":23,"y":0.65},{"x":24,"y":0.68},{"x":25,"y":0.70},{"x":27,"y":0.72},{"x":29,"y":0.78},{"x":31,"y":0.88},{"x":33,"y":0.98},{"x":34,"y":1.03},{"x":35,"y":1.00},{"x":37,"y":0.92},{"x":39,"y":0.88},{"x":41,"y":0.90},{"x":43,"y":0.92},{"x":45,"y":0.95},{"x":47,"y":0.90},{"x":49,"y":0.88},{"x":51,"y":0.88}],
"d1": [{"x":-50,"y":0.0268},{"x":-49,"y":0.0275},{"x":-48,"y":0.0282},{"x":-47,"y":0.0286},{"x":-46,"y":0.0288},{"x":-45,"y":0.0296},{"x":-44,"y":0.0302},{"x":-43,"y":0.0298},{"x":-42,"y":0.0291},{"x":-41,"y":0.0285},{"x":-40,"y":0.0281},{"x":-39,"y":0.0276},{"x":-38,"y":0.0284},{"x":-37,"y":0.0279},{"x":-36,"y":0.0273},{"x":-35,"y":0.0270},{"x":-34,"y":0.0325},{"x":-33,"y":0.0393},{"x":-32,"y":0.0305},{"x":-31,"y":0.0268},{"x":-30,"y":0.0282},{"x":-29,"y":0.0350},{"x":-28,"y":0.0392},{"x":-27,"y":0.0330},{"x":-26,"y":0.0338},{"x":-25,"y":0.0290},{"x":-24,"y":0.0315},{"x":-23,"y":0.0270},{"x":-22,"y":0.0292},{"x":-21,"y":0.0315},{"x":-20,"y":0.0280},{"x":-19,"y":0.0316},{"x":-18,"y":0.0387},{"x":-17,"y":0.0305},{"x":-16,"y":0.0275},{"x":-15,"y":0.0292},{"x":-14,"y":0.0302},{"x":-13,"y":0.0275},{"x":-12,"y":0.0316},{"x":-11,"y":0.0292},{"x":-10,"y":0.0375},{"x":-9,"y":0.0340},{"x":-8,"y":0.0292},{"x":-7,"y":0.0256},{"x":-6,"y":0.0184},{"x":-5,"y":0.0290},{"x":-4,"y":0.0495},{"x":-3,"y":0.0196},{"x":-2,"y":0.0148},{"x":-1,"y":0.0232},{"x":0,"y":0.0292},{"x":1,"y":0.0124},{"x":2,"y":0.0150},{"x":3,"y":0.0652},{"x":4,"y":0.0090},{"x":5,"y":0.0300},{"x":6,"y":0.0542},{"x":7,"y":0.0150},{"x":8,"y":0.0196},{"x":9,"y":0.0184},{"x":10,"y":0.0196},{"x":11,"y":0.0220},{"x":12,"y":0.0244},{"x":13,"y":0.0316},{"x":14,"y":0.0268},{"x":15,"y":0.0244},{"x":16,"y":0.0256},{"x":17,"y":0.0250},{"x":18,"y":0.0244},{"x":19,"y":0.0262},{"x":20,"y":0.0268},{"x":21,"y":0.0226},{"x":22,"y":0.0292},{"x":23,"y":0.0300},{"x":24,"y":0.0304},{"x":25,"y":0.0298},{"x":26,"y":0.0298},{"x":27,"y":0.0285},{"x":28,"y":0.0274},{"x":29,"y":0.0270},{"x":30,"y":0.0268},{"x":31,"y":0.0262},{"x":32,"y":0.0262},{"x":33,"y":0.0270},{"x":34,"y":0.0280},{"x":35,"y":0.0276},{"x":36,"y":0.0274},{"x":37,"y":0.0270},{"x":38,"y":0.0274},{"x":39,"y":0.0268},{"x":40,"y":0.0262},{"x":41,"y":0.0265},{"x":42,"y":0.0268},{"x":43,"y":0.0260},{"x":44,"y":0.0256},{"x":45,"y":0.0258},{"x":46,"y":0.0250},{"x":47,"y":0.0252},{"x":48,"y":0.0244},{"x":49,"y":0.0248},{"x":50,"y":0.0250},{"x":51,"y":0.0256}],
"d2": [{"x":-50,"y":0.0250},{"x":-49,"y":0.0248},{"x":-48,"y":0.0256},{"x":-47,"y":0.0252},{"x":-46,"y":0.0250},{"x":-45,"y":0.0256},{"x":-44,"y":0.0262},{"x":-43,"y":0.0258},{"x":-42,"y":0.0256},{"x":-41,"y":0.0266},{"x":-40,"y":0.0274},{"x":-39,"y":0.0265},{"x":-38,"y":0.0262},{"x":-37,"y":0.0258},{"x":-36,"y":0.0244},{"x":-35,"y":0.0255},{"x":-34,"y":0.0256},{"x":-33,"y":0.0262},{"x":-32,"y":0.0250},{"x":-31,"y":0.0268},{"x":-30,"y":0.0274},{"x":-29,"y":0.0244},{"x":-28,"y":0.0268},{"x":-27,"y":0.0290},{"x":-26,"y":0.0310},{"x":-25,"y":0.0270},{"x":-24,"y":0.0290},{"x":-23,"y":0.0280},{"x":-22,"y":0.0268},{"x":-21,"y":0.0275},{"x":-20,"y":0.0268},{"x":-19,"y":0.0292},{"x":-18,"y":0.0304},{"x":-17,"y":0.0268},{"x":-16,"y":0.0298},{"x":-15,"y":0.0327},{"x":-14,"y":0.0304},{"x":-13,"y":0.0268},{"x":-12,"y":0.0280},{"x":-11,"y":0.0286},{"x":-10,"y":0.0292},{"x":-9,"y":0.0268},{"x":-8,"y":0.0256},{"x":-7,"y":0.0220},{"x":-6,"y":0.0148},{"x":-5,"y":0.0196},{"x":-4,"y":0.0136},{"x":-3,"y":0.0232},{"x":-2,"y":0.0196},{"x":-1,"y":0.0447},{"x":0,"y":0.0041},{"x":1,"y":0.0423},{"x":2,"y":0.0077},{"x":3,"y":0.0411},{"x":4,"y":0.0100},{"x":5,"y":0.0351},{"x":6,"y":0.0435},{"x":7,"y":0.0124},{"x":8,"y":0.0220},{"x":9,"y":0.0244},{"x":10,"y":0.0459},{"x":11,"y":0.0280},{"x":12,"y":0.0363},{"x":13,"y":0.0340},{"x":14,"y":0.0351},{"x":15,"y":0.0363},{"x":16,"y":0.0357},{"x":17,"y":0.0316},{"x":18,"y":0.0340},{"x":19,"y":0.0280},{"x":20,"y":0.0316},{"x":21,"y":0.0305},{"x":22,"y":0.0304},{"x":23,"y":0.0310},{"x":24,"y":0.0316},{"x":25,"y":0.0300},{"x":26,"y":0.0280},{"x":27,"y":0.0290},{"x":28,"y":0.0298},{"x":29,"y":0.0268},{"x":30,"y":0.0268},{"x":31,"y":0.0292},{"x":32,"y":0.0363},{"x":33,"y":0.0280},{"x":34,"y":0.0274},{"x":35,"y":0.0285},{"x":36,"y":0.0280},{"x":37,"y":0.0272},{"x":38,"y":0.0280},{"x":39,"y":0.0275},{"x":40,"y":0.0268},{"x":41,"y":0.0272},{"x":42,"y":0.0274},{"x":43,"y":0.0268},{"x":44,"y":0.0274},{"x":45,"y":0.0270},{"x":46,"y":0.0280},{"x":47,"y":0.0283},{"x":48,"y":0.0280},{"x":49,"y":0.0275},{"x":50,"y":0.0274},{"x":51,"y":0.0268}]
},
"spacing": 27,
"resolve": {"scale": {"color": "independent"}, "legend": {"color": "independent"}},
"hconcat": [
 {"spacing": 13, "resolve": {"scale": {"color": "independent"}, "legend": {"color": "independent"}},
  "vconcat": [
   {"width": 377, "height": 219,
    "title": {"text": "a", "anchor": "start", "frame": "bounds", "fontSize": 31, "offset": 1},
    "layer": [
     {"data": {"values": [{}]}, "mark": {"type": "rule", "strokeDash": [3, 3], "color": "#666", "strokeWidth": 1}, "encoding": {"x": {"datum": 0, "type": "quantitative"}}},
     {"data": {"name": "a1"}, "mark": "line", "encoding": {
       "x": {"field": "x", "type": "quantitative", "scale": {"domain": [-108, 108], "nice": false, "zero": false}, "axis": {"values": [-100, -50, 0, 50, 100], "title": "Relative distance from the center (bp)", "labelExpr": "replace(datum.label, '\u2212', '-')"}},
       "y": {"field": "y", "type": "quantitative", "scale": {"domain": [-0.00077, 0.0192], "nice": false, "zero": false}, "axis": {"values": [0, 0.005, 0.01, 0.015], "format": ".3f", "labelAngle": -90, "labelAlign": "left", "labelBaseline": "bottom", "title": "Average profile", "titlePadding": 11.5}},
       "color": {"datum": "50 U 50-100 bp", "scale": {"domain": ["50 U 50-100 bp", "50 U 100-200 bp", "50 U 200-300 bp"], "range": ["#C0504D", "#7B62A6", "#000000"]},
         "legend": {"title": null, "orient": "top-left", "offset": 0, "padding": 0, "symbolType": "square", "symbolSize": 12, "symbolStrokeWidth": 3, "labelFontSize": 16, "labelOffset": 3, "rowPadding": -1}}}},
     {"data": {"name": "a2"}, "mark": "line", "encoding": {"x": {"field": "x", "type": "quantitative"}, "y": {"field": "y", "type": "quantitative"}, "color": {"datum": "50 U 100-200 bp"}}},
     {"data": {"name": "a3"}, "mark": "line", "encoding": {"x": {"field": "x", "type": "quantitative"}, "y": {"field": "y", "type": "quantitative"}, "color": {"datum": "50 U 200-300 bp"}}}
    ]},
   {"width": 377, "height": 217,
    "title": {"text": "b", "anchor": "start", "frame": "bounds", "fontSize": 31, "offset": 9},
    "layer": [
     {"data": {"values": [{}]}, "mark": {"type": "rule", "strokeDash": [3, 3], "color": "#666", "strokeWidth": 1}, "encoding": {"x": {"datum": 0, "type": "quantitative"}}},
     {"data": {"name": "b1"}, "mark": "line", "encoding": {
       "x": {"field": "x", "type": "quantitative", "scale": {"domain": [-108, 108], "nice": false, "zero": false}, "axis": {"values": [-100, -50, 0, 50, 100], "title": "Relative distance from the center (bp)", "labelPadding": 6, "titlePadding": -3, "labelExpr": "replace(datum.label, '\u2212', '-')"}},
       "y": {"field": "y", "type": "quantitative", "scale": {"domain": [-0.0003, 0.0284], "nice": false, "zero": false}, "axis": {"values": [0, 0.01, 0.02], "format": ".3f", "labelAngle": -90, "labelAlign": "left", "labelBaseline": "bottom", "title": "Average profile", "titlePadding": 11.5}},
       "color": {"datum": "5 U 50-100 bp", "scale": {"domain": ["5 U 50-100 bp", "25 U 50-100 bp", "50 U 50-100 bp", "75 U 50-100 bp", "100 U 50-100 bp"], "range": ["#C0504D", "#F4C21C", "#4A7EBB", "#7B62A6", "#000000"]},
         "legend": {"title": null, "orient": "top-left", "offset": 6, "padding": 0, "columns": 2, "columnPadding": 111, "symbolType": "square", "symbolSize": 12, "symbolStrokeWidth": 3, "labelFontSize": 16.2, "labelOffset": 3, "rowPadding": -0.7}}}},
     {"data": {"name": "b2"}, "mark": "line", "encoding": {"x": {"field": "x", "type": "quantitative"}, "y": {"field": "y", "type": "quantitative"}, "color": {"datum": "25 U 50-100 bp"}}},
     {"data": {"name": "b3"}, "mark": "line", "encoding": {"x": {"field": "x", "type": "quantitative"}, "y": {"field": "y", "type": "quantitative"}, "color": {"datum": "50 U 50-100 bp"}}},
     {"data": {"name": "b4"}, "mark": "line", "encoding": {"x": {"field": "x", "type": "quantitative"}, "y": {"field": "y", "type": "quantitative"}, "color": {"datum": "75 U 50-100 bp"}}},
     {"data": {"name": "b5"}, "mark": "line", "encoding": {"x": {"field": "x", "type": "quantitative"}, "y": {"field": "y", "type": "quantitative"}, "color": {"datum": "100 U 50-100 bp"}}}
    ]}
 ]},
 {"spacing": 6, "resolve": {"scale": {"color": "independent"}, "legend": {"color": "independent"}},
  "vconcat": [
  {"spacing": 4, "resolve": {"scale": {"color": "independent"}, "legend": {"color": "independent"}},
   "vconcat": [
    {"width": 270, "height": 6, "data": {"values": []}, "mark": "point",
     "title": {"text": "c", "anchor": "start", "frame": "group", "fontSize": 31, "fontWeight": "bold", "offset": -2, "dx": -45}},
    {"width": 278, "height": 184,
     "title": {"text": "DNase cleavage in LNCaP", "fontSize": 19, "anchor": "middle", "frame": "group", "offset": 3},
     "layer": [
      {"data": {"name": "c1"}, "mark": "line", "encoding": {
        "x": {"field": "x", "type": "quantitative", "scale": {"domain": [-52.9, 55.5], "nice": false, "zero": false}, "axis": {"values": [-50, -25, 0, 25, 50], "title": "Relative distance from the center (bp)", "labelPadding": 6, "titlePadding": 1, "labelExpr": "abs(datum.value) == 25 ? '' : replace(datum.label, '\u2212', '-')"}},
        "y": {"field": "y", "type": "quantitative", "scale": {"domain": [-0.066, 4.46], "nice": false, "zero": false}, "axis": {"values": [0, 1, 2, 3, 4], "labelAngle": -90, "labelAlign": "center", "labelBaseline": "bottom", "title": "Average profile", "titlePadding": 11}},
        "color": {"datum": "plus", "scale": {"domain": ["plus", "minus"], "range": ["#E2322C", "#2556A6"]},
          "legend": {"title": null, "orient": "top-left", "offset": 8, "padding": 0, "symbolType": "M-1,0L3,0", "symbolSize": 256, "symbolStrokeWidth": 4, "labelFontSize": 19, "labelOffset": 18, "rowPadding": -6}}}},
      {"data": {"name": "c2"}, "mark": "line", "encoding": {"x": {"field": "x", "type": "quantitative"}, "y": {"field": "y", "type": "quantitative"}, "color": {"datum": "minus"}}}
     ]}
   ]},
  {"spacing": 4, "resolve": {"scale": {"color": "independent"}, "legend": {"color": "independent"}},
   "vconcat": [
    {"width": 270, "height": 11.8, "data": {"values": []}, "mark": "point",
     "title": {"text": "d", "anchor": "start", "frame": "group", "fontSize": 31, "offset": 3, "dx": -45}},
    {"width": 271, "height": 182,
     "title": {"text": "DNase cleavage in IMR90 naked DNA", "fontSize": 19, "anchor": "middle", "frame": "group", "offset": 6.6},
     "layer": [
      {"data": {"name": "d1"}, "mark": "line", "encoding": {
        "x": {"field": "x", "type": "quantitative", "scale": {"domain": [-53.1, 52.6], "nice": false, "zero": false}, "axis": {"values": [-50, -25, 0, 25, 50], "title": "Relative distance from the center (bp)", "labelPadding": 11, "titlePadding": -3, "labelExpr": "abs(datum.value) == 25 ? '' : replace(datum.label, '\u2212', '-')"}},
        "y": {"field": "y", "type": "quantitative", "scale": {"domain": [0.0022, 0.0672], "nice": false, "zero": false}, "axis": {"values": [0.01, 0.03, 0.05], "format": ".2f", "labelAngle": -90, "labelAlign": "center", "labelBaseline": "bottom", "title": "Average profile", "titlePadding": 11}},
        "color": {"datum": "plus", "scale": {"domain": ["plus", "minus"], "range": ["#E2322C", "#2556A6"]}, "legend": null}}},
      {"data": {"name": "d2"}, "mark": "line", "encoding": {"x": {"field": "x", "type": "quantitative"}, "y": {"field": "y", "type": "quantitative"}, "color": {"datum": "minus"}}}
     ]}
   ]}
 ]}
]
}
